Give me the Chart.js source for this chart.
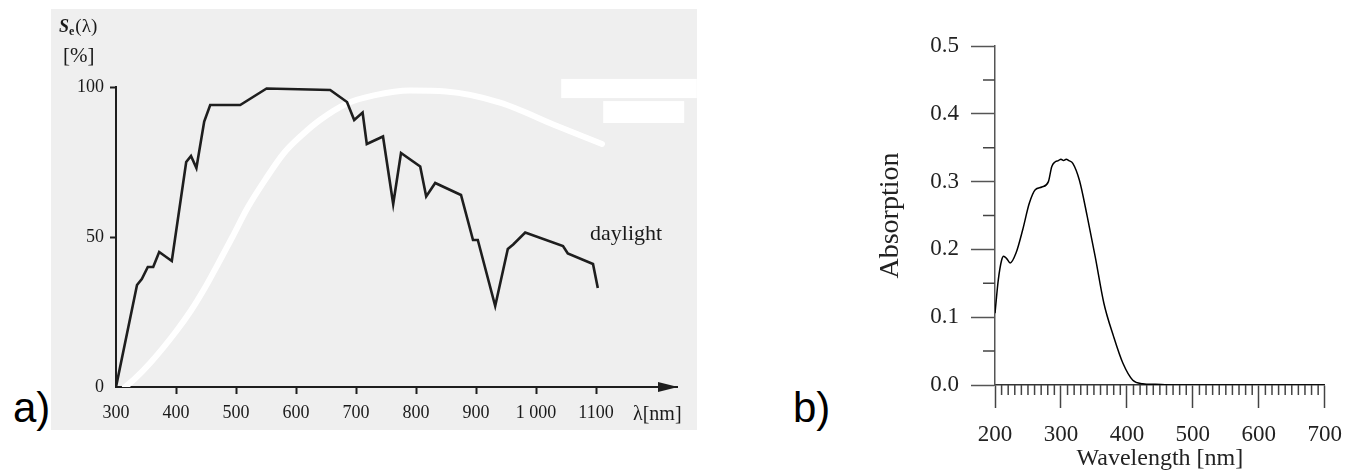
<!DOCTYPE html>
<html>
<head>
<meta charset="utf-8">
<script src="https://cdn.jsdelivr.net/npm/chart.js@4.4.1/dist/chart.umd.min.js"></script>
<style>
  html, body { margin: 0; padding: 0; background: #fff; }
  body { width: 1355px; height: 471px; position: relative; overflow: hidden; }
  #panelA { position: absolute; left: 51px; top: 9px; width: 646px; height: 421px; background: #efefef; }
  #chartB { position: absolute; left: 700px; top: 0; }
  .tag { position: absolute; font-family: 'Liberation Sans', Arial, sans-serif; font-size: 42px; line-height: 42px; color: #000; }
</style>
</head>
<body>
<div class="tag" style="left:13px;top:387px">a)</div>
<div class="tag" style="left:793px;top:387px">b)</div>
<div id="panelA"><canvas id="chartA" width="646" height="421"></canvas></div>
<canvas id="chartB" width="655" height="471"></canvas>
<script>
// ---- panel a: spectral sensitivity of the cell (black) and daylight (white)
const cellNm  = [300, 335, 343, 353, 362, 372, 393, 417, 425, 434, 447, 457, 507, 551, 657, 685, 697, 711, 718, 745, 762, 775, 807, 817, 832, 875, 895, 903, 932, 953, 962, 982, 1045, 1053, 1095, 1103];
const cellPct = [0, 34, 36, 40, 40, 45, 42, 75, 77, 73, 88.5, 94, 94, 99.5, 99, 95, 89, 91.5, 81, 83.5, 61, 78, 73.5, 63.5, 68, 64, 49, 49, 27, 46, 47.5, 51.5, 47, 44.5, 41, 33];
const dayNm   = [315, 330, 357, 400, 425, 448, 470, 494, 520, 550, 580, 610, 640, 685, 730, 790, 850, 940, 1035, 1110];
const dayPct  = [0, 2.5, 8, 18.5, 25.5, 33, 41, 50, 60, 69.5, 78, 84, 89, 94.5, 97.2, 98.8, 98.5, 94.8, 87, 81];
const aTicksX = [300, 400, 500, 600, 700, 800, 900, 1000, 1100];
const aTicksY = [0, 50, 100];

// ---- panel b: absorption spectrum
const absNm  = [200, 205, 210, 213, 218, 223, 232, 242, 252, 261, 271, 281, 286, 291, 296, 300, 304, 308, 312, 318, 328, 340, 352, 365, 380, 394, 409, 424, 443, 470, 550, 700];
const absVal = [0.106, 0.155, 0.184, 0.190, 0.186, 0.180, 0.195, 0.229, 0.268, 0.288, 0.292, 0.300, 0.322, 0.329, 0.331, 0.333, 0.331, 0.333, 0.331, 0.327, 0.302, 0.248, 0.189, 0.121, 0.071, 0.032, 0.007, 0.002, 0.001, 0, 0, 0];
const bTicksX = [200, 300, 400, 500, 600, 700];
const bTicksY = [0, 0.1, 0.2, 0.3, 0.4, 0.5];

const serif = "'Liberation Serif', 'Times New Roman', serif";
const clear = 'rgba(0,0,0,0)';

const toPoints = (xs, ys) => xs.map((v, i) => ({ x: v, y: ys[i] }));
const useTicks = list => scale => { scale.ticks = list.map(v => ({ value: v })); };

// white patches, arrow and the free texts of panel a
const panelADecor = {
  id: 'panelADecor',
  afterDraw(chart) {
    const { ctx, chartArea, scales: { x, y } } = chart;
    ctx.save();

    // white blanked boxes (upper right), given in axis units
    ctx.fillStyle = '#fff';
    [[1042, 1268, 102.7, 96.3], [1112, 1247, 95.3, 88]].forEach(b => {
      const x0 = x.getPixelForValue(b[0]), x1 = x.getPixelForValue(b[1]);
      const y0 = y.getPixelForValue(b[2]), y1 = y.getPixelForValue(b[3]);
      ctx.fillRect(x0, y0, x1 - x0, y1 - y0);
    });

    // arrow head at the end of the wavelength axis
    ctx.fillStyle = '#1e1e1e';
    ctx.beginPath();
    ctx.moveTo(chartArea.right + 1, chartArea.bottom);
    ctx.lineTo(chartArea.right - 19, chartArea.bottom - 5);
    ctx.lineTo(chartArea.right - 19, chartArea.bottom + 5);
    ctx.closePath();
    ctx.fill();

    ctx.fillStyle = '#1a1a1a';
    ctx.textBaseline = 'alphabetic';
    ctx.textAlign = 'left';

    ctx.font = '22px ' + serif;
    ctx.fillText('daylight', x.getPixelForValue(1090), y.getPixelForValue(49));

    ctx.font = '20px ' + serif;
    ctx.fillText('λ[nm]', chartArea.right - 44, chartArea.bottom + 33);

    // S_e(λ) [%]
    const tx = chartArea.left - 57, ty = chartArea.top - 55;
    ctx.font = 'bold italic 18px ' + serif;
    ctx.fillText('S', tx, ty);
    let w = ctx.measureText('S').width;
    ctx.font = 'bold 12px ' + serif;
    ctx.fillText('e', tx + w, ty + 3);
    w += ctx.measureText('e').width + 1;
    ctx.font = '19px ' + serif;
    ctx.fillText('(λ)', tx + w, ty);
    ctx.font = '21px ' + serif;
    ctx.fillText('[%]', chartArea.left - 53, chartArea.top - 25.5);

    ctx.restore();
  }
};

// minor ticks of panel b
const minorTicksB = {
  id: 'minorTicksB',
  afterDraw(chart) {
    const { ctx, scales: { x, y } } = chart;
    ctx.save();
    ctx.strokeStyle = '#444';
    ctx.lineWidth = 1.5;
    ctx.beginPath();
    for (let nm = 210; nm < 700; nm += 10) {
      if (nm % 100 === 0) continue;
      const px = x.getPixelForValue(nm);
      ctx.moveTo(px, y.bottom);
      ctx.lineTo(px, y.bottom + 10);
    }
    for (let i = 0; i < 5; i++) {
      const py = y.getPixelForValue(0.05 + i * 0.1);
      ctx.moveTo(x.left - 12, py);
      ctx.lineTo(x.left, py);
    }
    ctx.stroke();
    ctx.restore();
  }
};

new Chart(document.getElementById('chartA'), {
  type: 'line',
  data: {
    datasets: [
      {
        data: toPoints(cellNm, cellPct),
        borderColor: '#1e1e1e',
        borderWidth: 2.6,
        pointRadius: 0,
        tension: 0
      },
      {
        data: toPoints(dayNm, dayPct),
        borderColor: '#ffffff',
        borderWidth: 6,
        borderCapStyle: 'round',
        pointRadius: 0,
        cubicInterpolationMode: 'monotone'
      }
    ]
  },
  options: {
    responsive: false,
    animation: false,
    devicePixelRatio: 1,
    layout: { padding: { left: 0, top: 78, right: 20, bottom: 0 } },
    plugins: { legend: { display: false }, tooltip: { enabled: false } },
    scales: {
      x: {
        type: 'linear',
        min: 300,
        max: 1235,
        afterBuildTicks: useTicks(aTicksX),
        afterFit: s => { s.height = 43; },
        ticks: {
          padding: 8,
          color: '#1a1a1a',
          maxRotation: 0,
          autoSkip: false,
          font: { family: serif, size: 18 },
          callback: v => (v === 1000 ? '1 000' : String(v))
        },
        grid: {
          drawOnChartArea: false,
          tickLength: 7,
          tickWidth: 2,
          tickColor: c => (c.tick && c.tick.value === 300 ? clear : '#1e1e1e')
        },
        border: { color: '#1e1e1e', width: 2 }
      },
      y: {
        type: 'linear',
        min: 0,
        max: 100,
        afterBuildTicks: useTicks(aTicksY),
        afterFit: s => { s.width = 65; },
        ticks: { padding: 6, color: '#1a1a1a', font: { family: serif, size: 18 } },
        grid: {
          drawOnChartArea: false,
          tickLength: 6,
          tickWidth: 2,
          tickColor: c => (c.tick && c.tick.value === 0 ? clear : '#1e1e1e')
        },
        border: { color: '#1e1e1e', width: 2 }
      }
    }
  },
  plugins: [panelADecor]
});

new Chart(document.getElementById('chartB'), {
  type: 'line',
  data: {
    datasets: [{
      data: toPoints(absNm, absVal),
      borderColor: '#000',
      borderWidth: 1.5,
      pointRadius: 0,
      cubicInterpolationMode: 'monotone'
    }]
  },
  options: {
    responsive: false,
    animation: false,
    devicePixelRatio: 1,
    layout: { padding: { left: 174, top: 46, right: 21, bottom: 0 } },
    plugins: { legend: { display: false }, tooltip: { enabled: false } },
    scales: {
      x: {
        type: 'linear',
        min: 200,
        max: 700,
        afterBuildTicks: useTicks(bTicksX),
        afterFit: s => { s.height = 86; },
        ticks: { padding: 13, color: '#222', maxRotation: 0, font: { family: serif, size: 23 } },
        grid: { drawOnChartArea: false, tickLength: 23, tickWidth: 1.5, tickColor: '#444' },
        border: { color: '#333', width: 1.5 },
        title: {
          display: true,
          text: 'Wavelength [nm]',
          color: '#222',
          padding: 0,
          font: { family: serif, size: 24, lineHeight: 1 }
        }
      },
      y: {
        type: 'linear',
        min: 0,
        max: 0.5,
        afterBuildTicks: useTicks(bTicksY),
        afterFit: s => { s.width = 121; },
        ticks: { padding: 12, color: '#222', font: { family: serif, size: 23 }, callback: v => v.toFixed(1) },
        grid: { drawOnChartArea: false, tickLength: 24, tickWidth: 1.5, tickColor: '#555' },
        border: { color: '#555', width: 1.5 },
        title: {
          display: true,
          text: 'Absorption',
          color: '#222',
          padding: 0,
          font: { family: serif, size: 28, lineHeight: 1.2 }
        }
      }
    }
  },
  plugins: [minorTicksB]
});
</script>
</body>
</html>
